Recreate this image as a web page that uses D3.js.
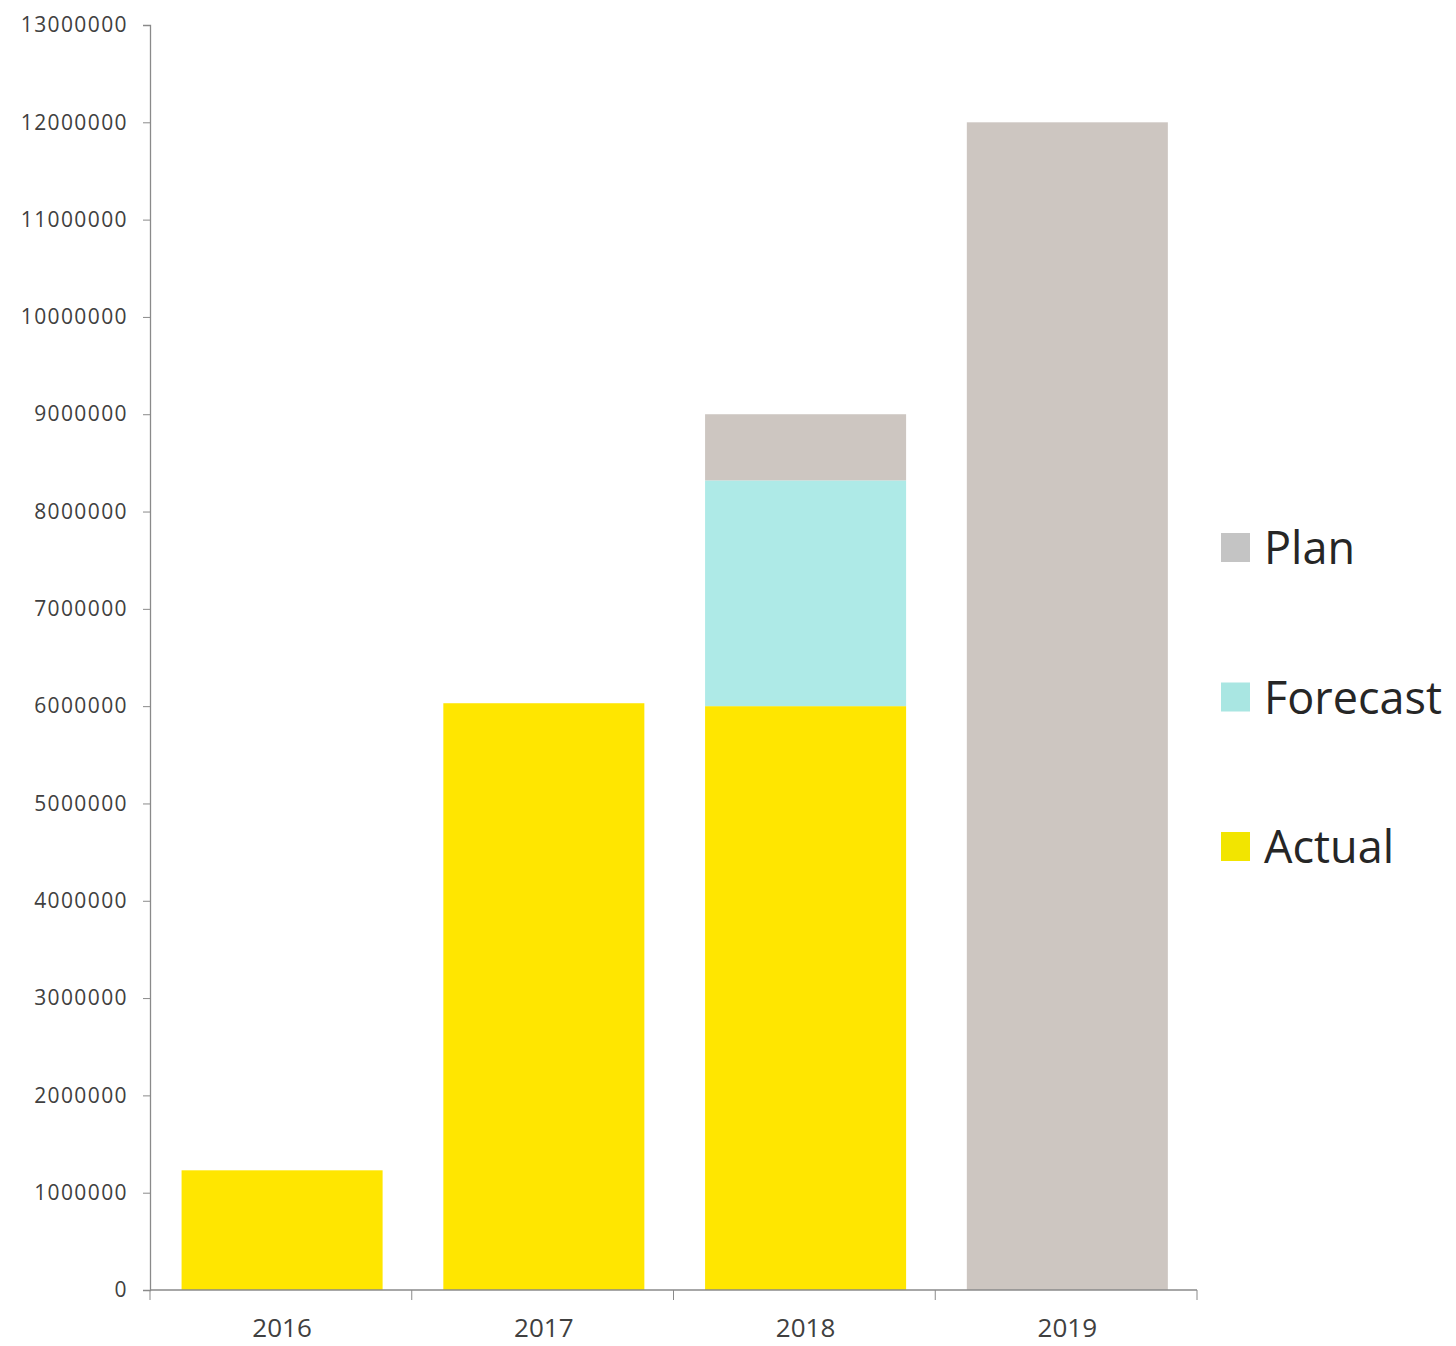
<!DOCTYPE html>
<html>
<head>
<meta charset="utf-8">
<script src="https://cdn.jsdelivr.net/npm/d3@7"></script>
<style>
  body { margin: 0; background: #fff; }
  svg { display: block; }
</style>
</head>
<body>
<svg width="1456" height="1346"></svg>
<script>
// data
const years = ["2016", "2017", "2018", "2019"];
const actual = [1230000, 6030000, 6000000, 0];
const forecast = [0, 0, 2320000, 0];
const plan = [0, 0, 680000, 12000000];
const seriesNames = ["Actual", "Forecast", "Plan"];
const yTicks = d3.range(0, 13000001, 1000000);

const svg = d3.select("svg");
const plotLeft = 150, plotRight = 1197, plotTop = 25, plotBottom = 1290;

const colors = { Actual: "#ffe600", Forecast: "#aeeae7", Plan: "#cdc6c1" };
const legendColors = { Actual: "#f2e500", Forecast: "#a9e6e2", Plan: "#c4c4c4" };

// build rows for d3.stack
const rows = years.map((y, i) => ({ year: y, Actual: actual[i], Forecast: forecast[i], Plan: plan[i] }));
const stacked = d3.stack().keys(seriesNames)(rows);

const x = d3.scaleBand().domain(years).range([plotLeft, plotRight])
  .paddingInner(0.232).paddingOuter(0.116).align(0.52);
const y = d3.scaleLinear().domain([0, 13000000]).range([plotBottom, plotTop]);

// bars
svg.append("g").selectAll("g")
  .data(stacked)
  .enter().append("g")
  .attr("fill", d => colors[d.key])
  .selectAll("rect")
  .data(d => d)
  .enter().append("rect")
  .attr("x", d => x(d.data.year))
  .attr("y", d => y(d[1]))
  .attr("width", x.bandwidth())
  .attr("height", d => y(d[0]) - y(d[1]));

// y axis
const yAxis = svg.append("g")
  .attr("transform", `translate(${plotLeft},0)`)
  .call(d3.axisLeft(y).tickValues(yTicks).tickFormat(d3.format("d")).tickSize(7).tickPadding(15));
yAxis.select(".domain").attr("stroke", "#8a8a8a").attr("stroke-width", 1.3);
yAxis.selectAll(".tick line").attr("stroke", "#8a8a8a");
yAxis.selectAll("text")
  .attr("fill", "#404040")
  .style("font-family", "'Open Sans', sans-serif")
  .style("font-size", "21px")
  .style("letter-spacing", "1.4px");

// x axis, ticks between categories
const step = (plotRight - plotLeft) / years.length;
const boundaries = d3.range(years.length + 1).map(i => plotLeft + i * step);
const xg = svg.append("g");
xg.append("line")
  .attr("x1", plotLeft).attr("x2", plotRight)
  .attr("y1", plotBottom).attr("y2", plotBottom)
  .attr("stroke", "#8a8a8a").attr("stroke-width", 1.3);
xg.selectAll("line.b")
  .data(boundaries)
  .enter().append("line")
  .attr("class", "b")
  .attr("x1", d => d).attr("x2", d => d)
  .attr("y1", plotBottom).attr("y2", plotBottom + 10)
  .attr("stroke", "#8a8a8a");
xg.selectAll("text")
  .data(years)
  .enter().append("text")
  .attr("x", d => x(d) + x.bandwidth() / 2)
  .attr("y", plotBottom + 47)
  .attr("text-anchor", "middle")
  .attr("fill", "#404040")
  .style("font-family", "'Open Sans', sans-serif")
  .style("font-size", "26px")
  .text(d => d);

// legend
const legendOrder = ["Plan", "Forecast", "Actual"];
const lg = svg.append("g").attr("transform", "translate(1221,533)");
const item = lg.selectAll("g")
  .data(legendOrder)
  .enter().append("g")
  .attr("transform", (d, i) => `translate(0,${i * 149.5})`);
item.append("rect")
  .attr("width", 29).attr("height", 29)
  .attr("fill", d => legendColors[d]);
item.append("text")
  .attr("x", 43).attr("y", 31)
  .attr("fill", "#262626")
  .style("font-family", "'Open Sans', sans-serif")
  .style("font-size", "45px")
  .text(d => d);
</script>
</body>
</html>
